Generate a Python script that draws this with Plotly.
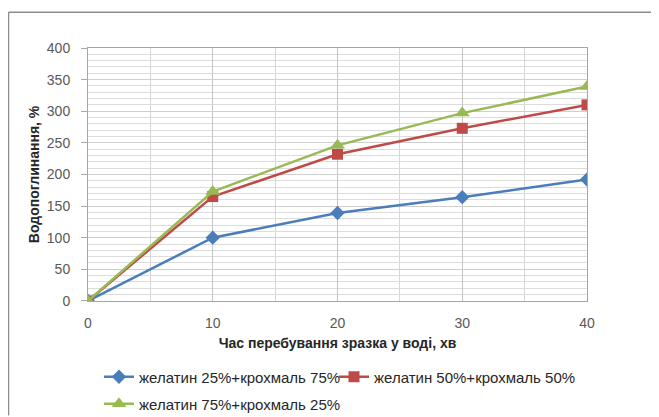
import plotly.graph_objects as go

x_vals = [0, 10, 20, 30, 40]
s1_name = "желатин 25%+крохмаль 75%"
s1_vals = [0, 100, 139, 164, 192]
s2_name = "желатин 50%+крохмаль 50%"
s2_vals = [0, 165, 232, 273, 310]
s3_name = "желатин 75%+крохмаль 25%"
s3_vals = [0, 173, 246, 297, 339]

x_title = "Час перебування зразка у воді, хв"
y_title = "Водопоглинання, %"

# page body has an 8px margin, so the figure sits at (8, 8)
W, H = 643, 409
L, R, T, B = 80, 64, 40, 115

font = "Liberation Sans"

fig = go.Figure()
fig.add_trace(go.Scatter(x=x_vals, y=s1_vals, name=s1_name, mode="lines+markers",
                         line=dict(color="#4A7EBB", width=2.5), legend="legend",
                         marker=dict(symbol="diamond", size=11, color="#4A7EBB")))
fig.add_trace(go.Scatter(x=x_vals, y=s2_vals, name=s2_name, mode="lines+markers",
                         line=dict(color="#BE4B48", width=2.5), legend="legend2",
                         marker=dict(symbol="square", size=11, color="#BE4B48")))
fig.add_trace(go.Scatter(x=x_vals, y=s3_vals, name=s3_name, mode="lines+markers",
                         line=dict(color="#98B954", width=2.5), legend="legend3",
                         marker=dict(symbol="triangle-up", size=13, color="#98B954")))

leg_common = dict(orientation="h", xref="container", yref="container",
                  xanchor="left", yanchor="middle",
                  font=dict(size=15, color="#262626", family=font),
                  bgcolor="rgba(0,0,0,0)", borderwidth=0)

fig.update_layout(
    width=W, height=H,
    margin=dict(l=L, r=R, t=T, b=B, pad=0),
    paper_bgcolor="white", plot_bgcolor="white",
    font=dict(family=font, size=14, color="#404040"),
    showlegend=True,
    legend=dict(x=91 / W, y=1 - 369 / H, **leg_common),
    legend2=dict(x=326 / W, y=1 - 369 / H, **leg_common),
    legend3=dict(x=91 / W, y=1 - 396 / H, **leg_common),
    xaxis=dict(range=[0, 40], tickvals=[0, 10, 20, 30, 40], showgrid=True,
               gridcolor="#C4C4C4", gridwidth=1,
               minor=dict(dtick=5, showgrid=True, gridcolor="#D6D6D6", gridwidth=1),
               showline=True, linecolor="#A6A6A6", linewidth=1, mirror=True,
               ticks="outside", ticklen=9, tickcolor="rgba(0,0,0,0)", zeroline=False,
               tickfont=dict(size=14, color="#595959"),
               title=dict(text="<b>" + x_title + "</b>", font=dict(size=14, color="#262626"), standoff=8)),
    yaxis=dict(range=[0, 400], dtick=50, showgrid=True,
               gridcolor="#CFCFCF", gridwidth=1,
               minor=dict(dtick=10, showgrid=True, gridcolor="#DCDCDC", gridwidth=1),
               showline=True, linecolor="#A6A6A6", linewidth=1, mirror=True,
               ticks="outside", ticklen=6, tickcolor="#A6A6A6", zeroline=False,
               ticklabelstandoff=8,
               tickfont=dict(size=14, color="#595959"),
               title=dict(text="<b>" + y_title + "</b>", font=dict(size=14, color="#262626"), standoff=3)),
)

# outer chart frame: only its top and left edges are inside the picture
pw, ph = W - L - R, H - T - B
fx0 = -L / pw + 0.5 / pw
fy1 = 1 + (T - 4) / ph
fig.add_shape(type="line", xref="paper", yref="paper",
              x0=fx0, x1=1 + R / pw, y0=fy1, y1=fy1,
              line=dict(color="#8C8C8C", width=1.5), layer="below")
fig.add_shape(type="line", xref="paper", yref="paper",
              x0=fx0, x1=fx0, y0=fy1, y1=-B / ph,
              line=dict(color="#8C8C8C", width=1.5), layer="below")

fig.write_html("out.html")
